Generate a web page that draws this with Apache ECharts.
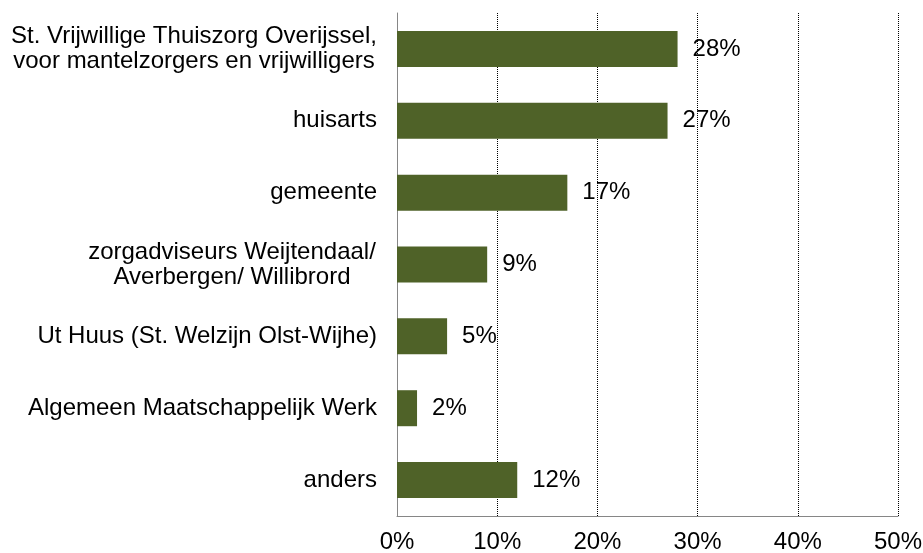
<!DOCTYPE html>
<html>
<head>
<meta charset="utf-8">
<script src="https://cdn.jsdelivr.net/npm/echarts@6/dist/echarts.min.js"></script>
<style>
  html, body { margin: 0; padding: 0; background: #fff; }
  #chart { width: 923px; height: 553px; }
</style>
</head>
<body>
<div id="chart"></div>
<script>
// categories from top to bottom
const categories = [
  'St. Vrijwillige Thuiszorg Overijssel,\nvoor mantelzorgers en vrijwilligers',
  'huisarts',
  'gemeente',
  'zorgadviseurs Weijtendaal/\nAverbergen/ Willibrord',
  'Ut Huus (St. Welzijn Olst-Wijhe)',
  'Algemeen Maatschappelijk Werk',
  'anders'
];
const values = [28, 27, 17, 9, 5, 2, 12];
const xTicks = [0, 10, 20, 30, 40, 50];

const chart = echarts.init(document.getElementById('chart'));

const font = 'Liberation Sans, Arial, sans-serif';

// multi-line labels are centred per line, single lines sit right-aligned
const labelFormatter = (val) => {
  const lines = val.split('\n');
  if (lines.length === 1) return val;
  const style = lines[0].indexOf('St.') === 0 ? 'a' : 'b';
  return lines.map(l => '{' + style + '|' + l + '}').join('\n');
};

chart.setOption({
  animation: false,
  grid: { left: 397, right: 25, top: 13, bottom: 37, outerBoundsMode: 'none' },
  xAxis: {
    type: 'value',
    min: xTicks[0],
    max: xTicks[xTicks.length - 1],
    interval: 10,
    axisLine: { show: true, lineStyle: { color: '#868686', width: 1 } },
    axisTick: { show: false },
    axisLabel: {
      color: '#000',
      fontFamily: font,
      fontSize: 24,
      margin: 14,
      formatter: v => v + '%'
    },
    splitLine: {
      show: true,
      lineStyle: { color: '#000', type: [1, 1], width: 1 }
    }
  },
  yAxis: {
    type: 'category',
    inverse: true,
    data: categories,
    axisLine: { show: true, lineStyle: { color: '#868686', width: 1 } },
    axisTick: { show: false },
    axisLabel: {
      color: '#000',
      fontFamily: font,
      fontSize: 24,
      lineHeight: 25,
      margin: 20,
      formatter: labelFormatter,
      rich: {
        a: { width: 366, align: 'center', fontSize: 24, lineHeight: 25, fontFamily: font, color: '#000' },
        b: { width: 290, align: 'center', fontSize: 24, lineHeight: 25, fontFamily: font, color: '#000' }
      }
    }
  },
  series: [
    {
      type: 'bar',
      data: values,
      barWidth: 36,
      itemStyle: { color: '#4F6228' },
      label: {
        show: true,
        position: 'right',
        distance: 15,
        color: '#000',
        fontFamily: font,
        fontSize: 24,
        formatter: p => p.value + '%'
      }
    }
  ]
});

window.addEventListener('resize', () => {
  chart.resize();
});
</script>
</body>
</html>
